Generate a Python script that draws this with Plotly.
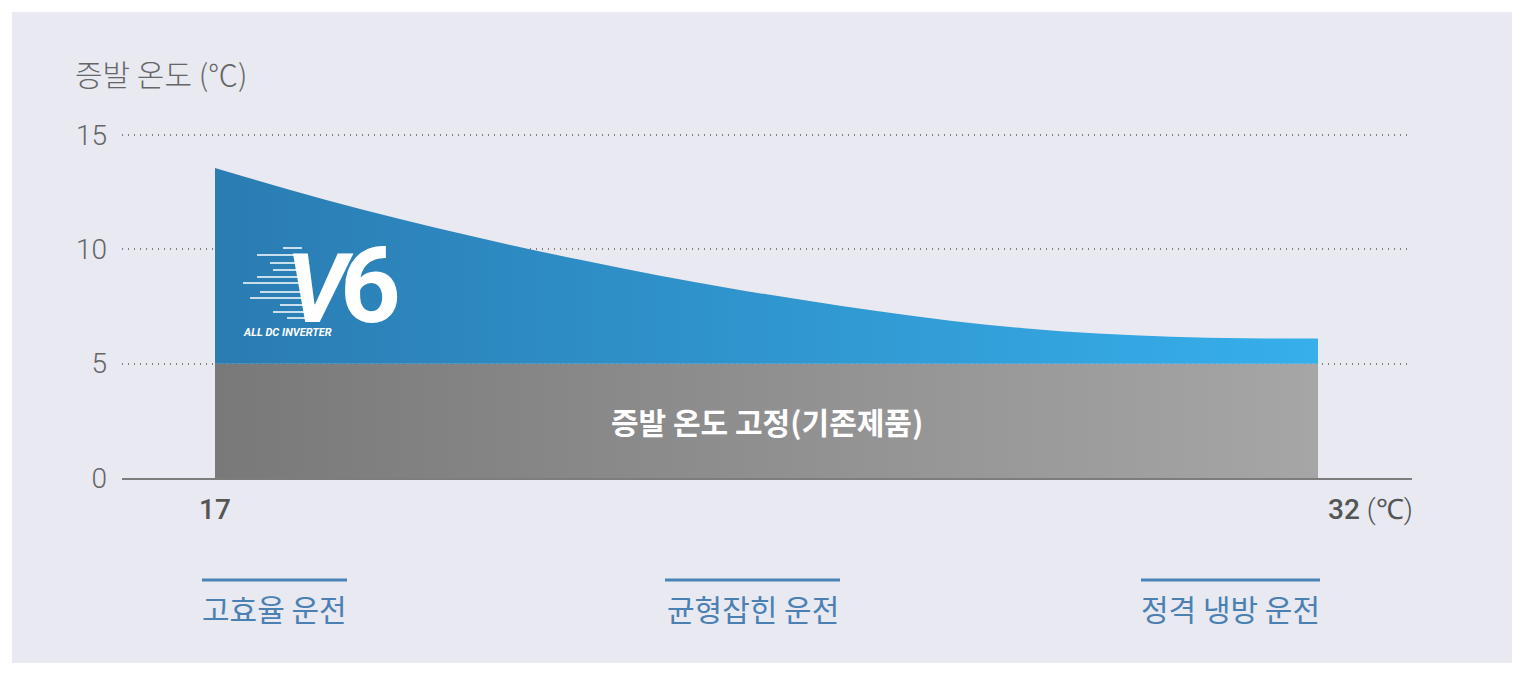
import plotly.graph_objects as go

# inlet temperature (°C) on x, evaporating temperature (°C) on y
inlet_temp = [17, 18, 19, 20, 21, 22, 23, 24, 25, 26, 27, 28, 29, 30, 31, 32]
evap_temp_v6 = [13.56, 12.62, 11.74, 10.94, 10.20, 9.52, 8.88, 8.30,
                7.78, 7.30, 6.88, 6.55, 6.32, 6.18, 6.11, 6.10]
fixed_x = [17, 32]
fixed_y = [5, 5]  # conventional product: evaporating temp fixed
y_ticks = [0, 5, 10, 15]
x_ticks = [17, 32]
fixed_label = "증발 온도 고정(기존제품)"
y_title = "증발 온도 (℃)"
mode_labels = ["고효율 운전", "균형잡힌 운전", "정격 냉방 운전"]

# page geometry (pixels) -> paper coordinates
FIG_W, FIG_H = 1524, 676
L, T, W, H = 122, 130, 1290, 348
Y_TOP = 15 * H / 343  # leave a few px above 15 so its gridline shows


def px(x):
    return (x - L) / W


def py(y):
    return (T + H - y) / H


KR = "Noto Sans CJK KR"
NUM = "Roboto"

fig = go.Figure()

fig.add_trace(go.Scatter(
    x=fixed_x, y=fixed_y, mode="lines", fill="tozeroy",
    line=dict(width=0),
    fillgradient=dict(type="horizontal",
                      colorscale=[[0, "#7a797a"], [1, "#a7a6a7"]]),
    hoverinfo="skip", showlegend=False,
))
fig.add_trace(go.Scatter(
    x=inlet_temp, y=evap_temp_v6, mode="lines", fill="tonexty",
    line=dict(width=0, shape="spline"),
    fillgradient=dict(type="horizontal",
                      colorscale=[[0, "#2a7cb2"], [1, "#36afeb"]]),
    hoverinfo="skip", showlegend=False,
))

shapes = [
    # light panel behind the chart
    dict(type="rect", xref="paper", yref="paper",
         x0=px(12), x1=px(1512), y0=py(663), y1=py(12),
         fillcolor="#e8e9f1", line=dict(width=0), layer="below"),
]

# blue bars above the operating mode labels: (centre px, width px)
mode_pos = [(274.5, 145), (752.5, 175), (1230.5, 179)]
for cx, w in mode_pos:
    shapes.append(dict(type="line", xref="paper", yref="paper",
                       x0=px(cx - w / 2), x1=px(cx + w / 2),
                       y0=py(580), y1=py(580),
                       line=dict(color="#4a83b5", width=3)))

# speed lines of the V6 logo
speed_lines = [(283, 302, 248), (257, 297, 255), (270, 300, 263),
               (273, 302, 270), (257, 300, 277), (243, 310, 283),
               (260, 312, 292), (250, 313, 298), (280, 315, 305),
               (273, 317, 312), (287, 320, 318)]
for x0, x1, y in speed_lines:
    shapes.append(dict(type="line", xref="paper", yref="paper",
                       x0=px(x0), x1=px(x1), y0=py(y), y1=py(y),
                       line=dict(color="white", width=1.5)))

# logo as one text block: big "V6" over the small caption
logo_text = ("<span style='font-size:170px'>&nbsp;</span>"
             "<span style='font-size:96px;letter-spacing:-7px'><b><i>V</i></b></span>"
             "<span style='font-size:106px'><b>6</b></span>"
             "<br><b><i>ALL DC INVERTER</i></b>")

tick_font = dict(family=NUM, size=28, color="#555555", weight=500)

annotations = [
    dict(text=y_title, xref="paper", yref="paper", x=px(73), y=py(73),
         xanchor="left", yanchor="middle", showarrow=False,
         font=dict(family=KR, size=30, color="#666666", weight=300)),
    dict(text=str(x_ticks[0]), xref="x", yref="paper",
         x=x_ticks[0], y=py(510), xanchor="center", yanchor="middle",
         showarrow=False, font=tick_font),
    dict(text=f"{x_ticks[1]} <span style='font-weight:300'>(℃)</span>",
         xref="x", yref="paper", x=x_ticks[1], xshift=8, y=py(510),
         xanchor="left", yanchor="middle", showarrow=False, font=tick_font),
    dict(text=fixed_label, xref="x", yref="y",
         x=sum(fixed_x) / 2, y=fixed_y[0] / 2, showarrow=False,
         font=dict(family=KR, size=30, color="white", weight=600)),
    dict(text=logo_text, xref="paper", yref="paper",
         x=px(241), y=py(366), xanchor="left", yanchor="bottom",
         align="left", showarrow=False,
         font=dict(family=NUM, size=11, color="white")),
]

for (cx, w), label in zip(mode_pos, mode_labels):
    annotations.append(dict(text=label, xref="paper", yref="paper",
                            x=px(cx), y=py(608), xanchor="center",
                            yanchor="middle", showarrow=False,
                            font=dict(family=KR, size=30, color="#4a80b2")))

fig.update_layout(
    width=FIG_W, height=FIG_H,
    margin=dict(l=L, r=FIG_W - L - W, t=T, b=FIG_H - T - H, pad=0),
    paper_bgcolor="white",
    plot_bgcolor="rgba(0,0,0,0)",
    shapes=shapes,
    annotations=annotations,
    xaxis=dict(range=[17 - 93 / 73.53, 32 + 94 / 73.53],
               showgrid=False, zeroline=False, showticklabels=False,
               showline=True, linecolor="#7d7d7d", linewidth=2,
               fixedrange=True),
    yaxis=dict(range=[0, Y_TOP], tickvals=y_ticks, ticks="",
               showgrid=True, gridcolor="#7f7f7f", gridwidth=1.5,
               griddash="1px,5px", zeroline=False, showline=False,
               ticklabelstandoff=14,
               tickfont=dict(family=NUM, size=28, color="#666666", weight=300),
               fixedrange=True),
)

fig.write_html("out.html", config={"displayModeBar": False},
               post_script="document.body.style.margin='0';")
